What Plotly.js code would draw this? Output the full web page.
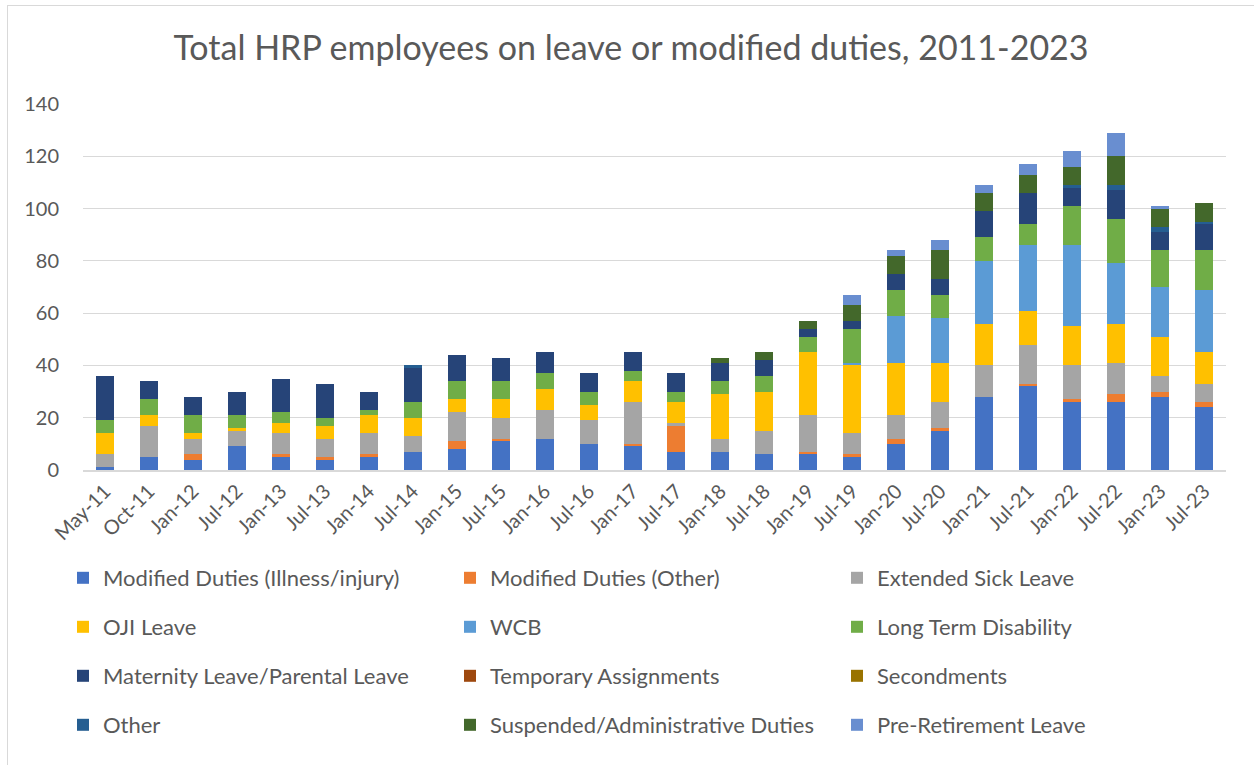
<!DOCTYPE html>
<html>
<head>
<meta charset="utf-8">
<script src="https://cdn.plot.ly/plotly-3.0.1.min.js"></script>
<style>
  html, body { margin: 0; padding: 0; background: #fff; }
  #chart { width: 1254px; height: 765px; }
  #frame { position: absolute; left: 7px; top: 5px; width: 1300px; height: 800px;
           border-left: 1.5px solid #d9d9d9; border-top: 1.5px solid #d9d9d9; pointer-events: none; }
</style>
</head>
<body>
<div id="chart"></div>
<div id="frame"></div>
<script>
const categories = ['May-11','Oct-11','Jan-12','Jul-12','Jan-13','Jul-13','Jan-14','Jul-14','Jan-15','Jul-15','Jan-16','Jul-16','Jan-17','Jul-17','Jan-18','Jul-18','Jan-19','Jul-19','Jan-20','Jul-20','Jan-21','Jul-21','Jan-22','Jul-22','Jan-23','Jul-23'];

const modifiedIllness   = [1,5,4,9,5,4,5,7,8,11,12,10,9,7,7,6,6,5,10,15,28,32,26,26,28,24];
const modifiedOther     = [0,0,2,0,1,1,1,0,3,1,0,0,1,10,0,0,1,1,2,1,0,1,1,3,2,2];
const extendedSick      = [5,12,6,6,8,7,8,6,11,8,11,9,16,1,5,9,14,8,9,10,12,15,13,12,6,7];
const ojiLeave          = [8,4,2,1,4,5,7,7,5,7,8,6,8,8,17,15,24,26,20,15,16,13,15,15,15,12];
const wcb               = [0,0,0,0,0,0,0,0,0,0,0,0,0,0,0,0,0,1,18,17,24,25,31,23,19,24];
const longTermDisab     = [5,6,7,5,4,3,2,6,7,7,6,5,4,4,5,6,6,13,10,9,9,8,15,17,14,15];
const maternityParental = [17,7,7,9,13,13,7,13,10,9,8,7,7,7,7,6,3,3,6,6,10,12,7,11,7,10];
const temporaryAssign   = [0,0,0,0,0,0,0,0,0,0,0,0,0,0,0,0,0,0,0,0,0,0,0,0,0,0];
const secondments       = [0,0,0,0,0,0,0,0,0,0,0,0,0,0,0,0,0,0,0,0,0,0,0,0,0,0];
const otherLeave        = [0,0,0,0,0,0,0,1,0,0,0,0,0,0,0,0,0,0,0,0,0,0,1,2,2,1];
const suspendedAdmin    = [0,0,0,0,0,0,0,0,0,0,0,0,0,0,2,3,3,6,7,11,7,7,7,11,7,7];
const preRetirement     = [0,0,0,0,0,0,0,0,0,0,0,0,0,0,0,0,0,4,2,4,3,4,6,9,1,0];

const seriesNames = ['Modified Duties (Illness/injury)','Modified Duties (Other)','Extended Sick Leave',
  'OJI Leave','WCB','Long Term Disability',
  'Maternity Leave/Parental Leave','Temporary Assignments','Secondments',
  'Other','Suspended/Administrative Duties','Pre-Retirement Leave'];
const seriesValues = [modifiedIllness, modifiedOther, extendedSick, ojiLeave, wcb, longTermDisab,
  maternityParental, temporaryAssign, secondments, otherLeave, suspendedAdmin, preRetirement];
const seriesColors = ['#4472C4','#ED7D31','#A5A5A5','#FFC000','#5B9BD5','#70AD47',
  '#264478','#9E480E','#997300','#255E91','#43682B','#698ED0'];
const legendIds = ['legend','legend2','legend3','legend4'];

const FONT = 'Lato, "Open Sans", sans-serif';
const TXT = '#595959';

const traces = seriesNames.map((name, i) => ({
  type: 'bar',
  name: name,
  x: categories,
  y: seriesValues[i].map(v => v === 0 ? null : v),
  marker: { color: seriesColors[i], line: { width: 0 } },
  legend: legendIds[Math.floor(i / 3)],
  hoverinfo: 'x+y+name'
}));

// plot area: x 83..1226, y 104..470
const L = 83, R = 1226, T = 104, B = 470;
const W = R - L, H = B - T;
const rowY = [578, 627, 676, 725];
function legendAt(py) {
  return {
    orientation: 'h', x: (63 - L) / W, xanchor: 'left',
    y: (B - py) / H, yanchor: 'middle',
    entrywidth: 342, entrywidthmode: 'pixels',
    font: { family: FONT, size: 22, color: TXT },
    bgcolor: 'rgba(0,0,0,0)', borderwidth: 0, traceorder: 'normal'
  };
}

const layout = {
  width: 1254, height: 765,
  margin: { l: L, r: 1254 - R, t: T, b: 765 - B, pad: 0 },
  paper_bgcolor: '#ffffff', plot_bgcolor: '#ffffff',
  barmode: 'stack', bargap: 0.59,
  showlegend: true,
  title: { text: 'Total HRP employees on leave or modified duties, 2011-2023',
           font: { family: FONT, size: 34, color: TXT },
           x: (631 - L) / W, xref: 'paper', xanchor: 'center', y: 1 - 48 / 765, yanchor: 'middle', yref: 'container' },
  xaxis: {
    type: 'category', tickmode: 'linear', dtick: 1, tickangle: -45,
    tickfont: { family: FONT, size: 20, color: TXT },
    showgrid: false, showline: true, linecolor: '#d9d9d9', linewidth: 1.5,
    ticks: '', fixedrange: true
  },
  yaxis: {
    range: [0, 140], dtick: 20, tick0: 0,
    tickfont: { family: FONT, size: 20, color: TXT },
    showgrid: true, gridcolor: '#d9d9d9', gridwidth: 1.3,
    zeroline: false, showline: false, ticks: '', ticklabelstandoff: 23, fixedrange: true
  },
  legend: legendAt(rowY[0]),
  legend2: legendAt(rowY[1]),
  legend3: legendAt(rowY[2]),
  legend4: legendAt(rowY[3])
};

Plotly.newPlot('chart', traces, layout, { displayModeBar: false, staticPlot: false });
</script>
</body>
</html>
